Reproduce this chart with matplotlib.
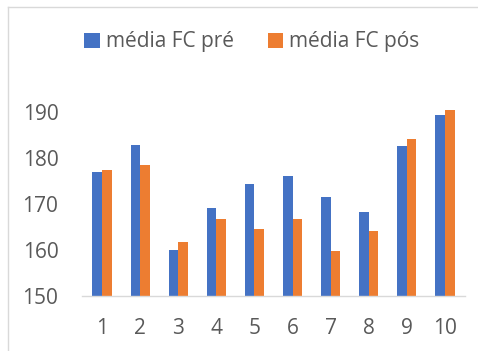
import matplotlib
matplotlib.use("Agg")
import matplotlib.pyplot as plt
from matplotlib.lines import Line2D
import numpy as np

categories = ["1", "2", "3", "4", "5", "6", "7", "8", "9", "10"]
fc_pre = [177.0, 182.8, 160.0, 169.1, 174.4, 176.2, 171.6, 168.3, 182.7, 189.3]
fc_pos = [177.3, 178.5, 161.7, 166.7, 164.5, 166.7, 159.7, 164.2, 184.1, 190.4]
y_ticks = [150, 160, 170, 180, 190]

blue = "#4472C4"
orange = "#ED7D31"
text_gray = "#595959"

plt.rcParams["font.family"] = ["Open Sans", "DejaVu Sans"]

W, H = 478, 351
fig = plt.figure(figsize=(W / 100, H / 100), dpi=100)
fig.patch.set_facecolor("white")

ax = fig.add_axes([82 / W, (H - 296) / H, (465 - 82) / W, (296 - 96) / H])
x = np.arange(1, len(categories) + 1)
bw = 0.25
ax.bar(x - bw / 2, [v - 150 for v in fc_pre], bw, bottom=150, color=blue, label="média FC pré")
ax.bar(x + bw / 2, [v - 150 for v in fc_pos], bw, bottom=150, color=orange, label="média FC pós")

ax.set_xlim(0.475, 10.525)
ax.set_ylim(150, 193.5)
ax.set_xticks(x)
ax.set_xticklabels(categories)
ax.set_yticks(y_ticks)
for s in ["top", "right", "left"]:
    ax.spines[s].set_visible(False)
ax.spines["bottom"].set_color("#D9D9D9")
ax.spines["bottom"].set_linewidth(1.0)
ax.tick_params(axis="both", length=0, labelsize=15, labelcolor=text_gray)
ax.tick_params(axis="y", pad=17)
ax.tick_params(axis="x", pad=16)

leg = fig.legend(loc="center", bbox_to_anchor=(252 / W, 1 - 42 / H), ncol=2, frameon=False,
                 fontsize=15, handlelength=0.75, handleheight=0.75, handletextpad=0.3,
                 columnspacing=1.6)
for t in leg.get_texts():
    t.set_color(text_gray)

# light chart-area frame on the left and top
fig.add_artist(Line2D([7.5 / W, 7.5 / W], [0, 1 - 6.5 / H], transform=fig.transFigure,
                      color="#D9D9D9", lw=1.0))
fig.add_artist(Line2D([7.5 / W, 1], [1 - 6.5 / H, 1 - 6.5 / H], transform=fig.transFigure,
                      color="#D9D9D9", lw=1.0))

fig.savefig("out.png", dpi=100, facecolor="white")
